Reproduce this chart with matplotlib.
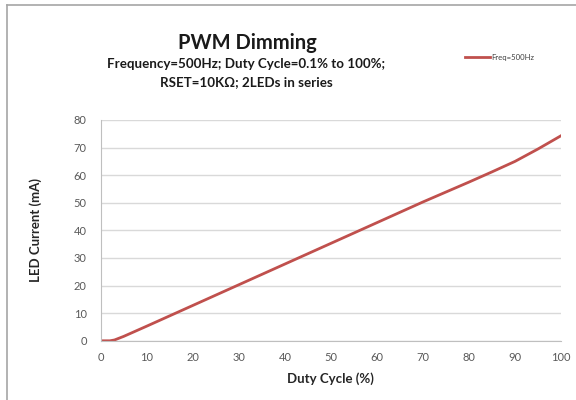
import matplotlib.pyplot as plt
from matplotlib.lines import Line2D

plt.rcParams['font.family'] = ['Lato', 'DejaVu Sans']

# Duty cycle (%) vs LED current (mA)
duty = [0, 0.1, 1, 2, 3, 5, 10, 20, 30, 40, 50, 60, 70, 80, 85, 90, 95, 100]
current = [0, 0, 0, 0, 0.3, 1.6, 5.3, 12.8, 20.3, 27.8, 35.3, 42.8, 50.3,
           57.5, 61.2, 65.0, 69.5, 74.3]
xticks = list(range(0, 101, 10))
yticks = list(range(0, 81, 10))

fig = plt.figure(figsize=(5.76, 4), dpi=100)
ax = fig.add_axes([0.1748, 0.148, 0.7992, 0.552])

ax.plot(duty, current, color='#C0504D', linewidth=2, label='Freq=500Hz')
ax.set_xlim(0, 100)
ax.set_ylim(0, 80)
ax.set_xticks(xticks)
ax.set_yticks(yticks)
ax.grid(axis='y', color='#D9D9D9', linewidth=1)
ax.set_axisbelow(True)
for s in ['top', 'right']:
    ax.spines[s].set_visible(False)
for s in ['left', 'bottom']:
    ax.spines[s].set_color('#BFBFBF')
ax.tick_params(colors='#595959', labelsize=8, length=0)
ax.tick_params(axis='y', pad=10)
ax.tick_params(axis='x', pad=8)

ax.set_xlabel('Duty Cycle (%)', fontsize=9.5, fontweight='bold', color='#262626', labelpad=7)
ax.set_ylabel('LED Current (mA)', fontsize=9.5, fontweight='bold', color='#262626', labelpad=23)

# titles
fig.text(0.429, 0.893, 'PWM Dimming', ha='center', va='center', fontsize=14.5, fontweight='bold', color='#1a1a1a')
fig.text(0.427, 0.84, 'Frequency=500Hz; Duty Cycle=0.1% to 100%;', ha='center', va='center',
         fontsize=9.6, fontweight='bold', color='#1a1a1a')
fig.text(0.427, 0.795, 'RSET=10KΩ; 2LEDs in series', ha='center', va='center',
         fontsize=9.6, fontweight='bold', color='#1a1a1a')

# legend
fig.legend(loc='center left', bbox_to_anchor=(0.795, 0.857), frameon=False, fontsize=5.6,
           handlelength=3.2, handletextpad=0.15, labelcolor='#404040')

# outer chart frame (partly visible)
fig.add_artist(Line2D([7 / 576, 7 / 576], [0, 1 - 5 / 400], color='#A6A6A6', linewidth=1.2))
fig.add_artist(Line2D([7 / 576, 1], [1 - 5 / 400, 1 - 5 / 400], color='#A6A6A6', linewidth=1.2))

fig.savefig('out.png', dpi=100)
